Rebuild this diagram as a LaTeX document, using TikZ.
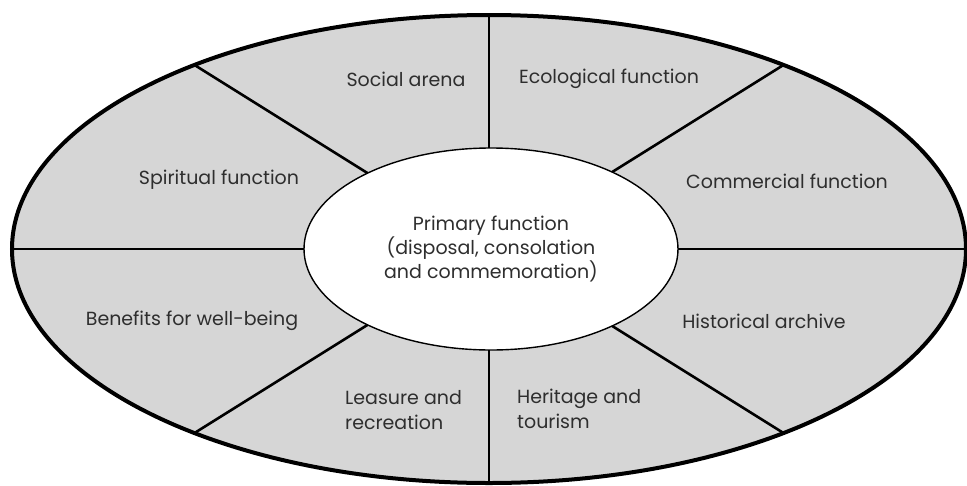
\documentclass[tikz,border=0pt]{standalone}
\usepackage{fontspec}
\setmainfont{Poppins}
\usetikzlibrary{shapes.geometric}
\definecolor{ringgray}{HTML}{D6D6D6}
\definecolor{inkgray}{HTML}{2E2E2E}
\tikzset{
  ringshape/.style={ellipse, inner sep=0pt, outer sep=0pt, fill=ringgray,
    minimum width=954pt, minimum height=468pt},
  coreshape/.style={ellipse, inner sep=0pt, outer sep=0pt, fill=white, draw=black,
    line width=1.4pt, minimum width=374pt, minimum height=202pt,
    align=center, font=\fontsize{19}{24}\selectfont, text=inkgray},
  divider/.style={line width=2.6pt, black},
  rim/.style={line width=4pt, black},
  lbl/.style={font=\fontsize{19}{24.5}\selectfont, text=inkgray, inner sep=0pt},
}
\begin{document}
\begin{tikzpicture}[x=1pt, y=-1pt]
  \useasboundingbox (0,0) rectangle (967,485);
  % outer grey ring
  \node[ringshape] (ring) at (489,249) {};
  % dividers between the sectors
  \foreach \a in {0,32,90,148,180,212,270,328}
    \draw[divider] (489,249) -- (ring.\a);
  % central function
  \node[coreshape] (core) at (491,249) {Primary function\\(disposal, consolation\\and commemoration)};
  \draw[rim] (ring.center) ellipse [x radius=477, y radius=234];
  % sector labels
  \node[lbl] (social) at (406,79) {Social arena};
  \node[lbl] (eco) at (609,79) {Ecological function};
  \node[lbl] (spirit) at (219,180) {Spiritual function};
  \node[lbl] (comm) at (787,181) {Commercial function};
  \node[lbl] (benefit) at (192,321) {Benefits for well-being};
  \node[lbl] (hist) at (764,321) {Historical archive};
  \node[lbl, align=left, anchor=west] (leisure) at (345,410) {Leasure and\\recreation};
  \node[lbl, align=left, anchor=west] (heritage) at (517,409) {Heritage and\\tourism};
\end{tikzpicture}
\end{document}
